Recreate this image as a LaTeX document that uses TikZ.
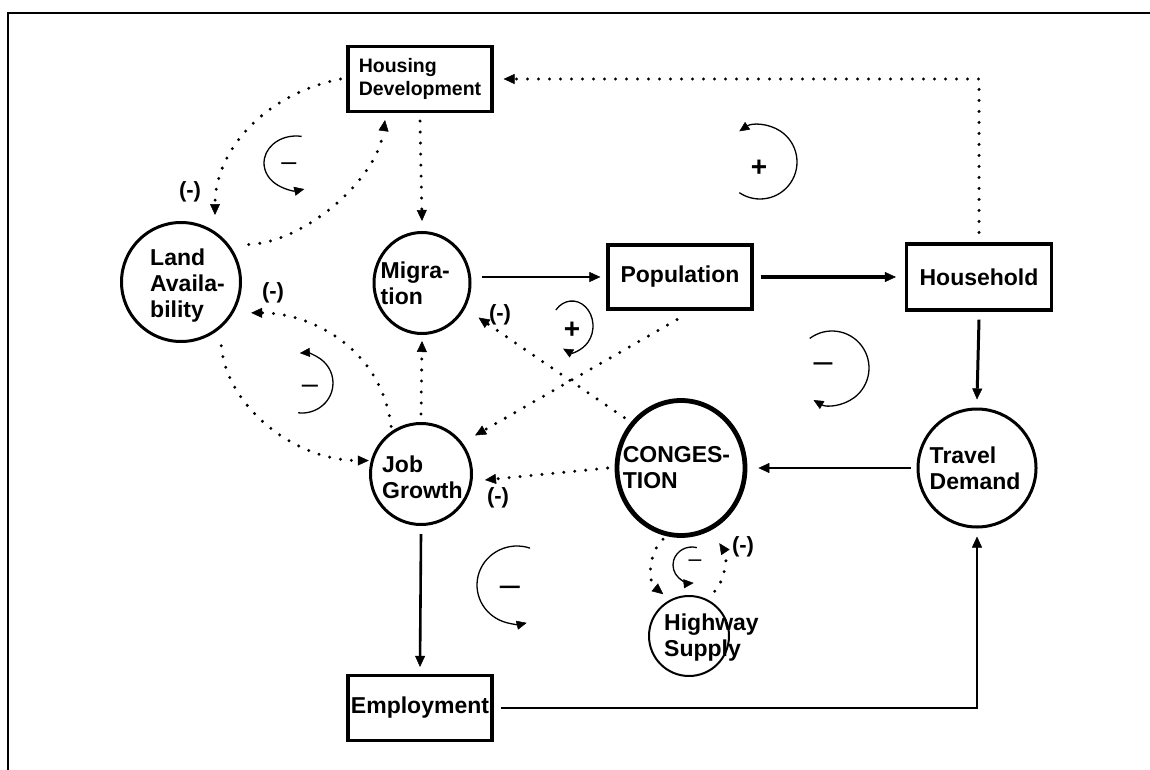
\documentclass[tikz,border=0pt]{standalone}
\usepackage{fontspec}
\setmainfont{Liberation Sans}
\usetikzlibrary{arrows.meta, positioning, shapes.geometric}
\tikzstyle{var} = [ellipse,draw,line width=3pt,inner sep=0pt]
\tikzstyle{box} = [rectangle,draw,line width=3.2pt,inner sep=1pt,align=center,font=\bfseries\fontsize{23}{26}\selectfont]
\tikzstyle{txt} = [inner sep=0pt,align=left,font=\bfseries\fontsize{23}{26}\selectfont]
\tikzstyle{sign} = [inner sep=0pt,font=\bfseries\fontsize{22}{26}\selectfont]
\tikzstyle{flow} = [->]
\tikzstyle{dots} = [->,line width=3.3pt,line cap=round,dash pattern=on 0pt off 11pt]
\tikzstyle{turn} = [-{Triangle[length=10pt,width=9pt,line width=.5pt]},line width=1.3pt]

\begin{document}
\begin{tikzpicture}[x=1pt,y=1pt,node distance=100pt,>={Triangle[length=11pt,width=10pt,line width=.5pt]}]
		\useasboundingbox (0,0) rectangle (1150,-770);
		\draw[line width=2.8pt] (8,-770) -- (8,-13) -- (1150,-13);

		\node [box,minimum width=144pt,minimum height=65pt,align=left,font=\bfseries\fontsize{19.5}{23}\selectfont](hd) at (420,-79){Housing\\Development};
		\node [var,below of=hd,xshift=-239pt,yshift=-103pt,minimum width=119pt,minimum height=119pt](land){};
		\node [var,below of=hd,xshift=2pt,yshift=-104pt,minimum width=96pt,minimum height=101pt](mig){};
		\node [box,right of=mig,xshift=158pt,yshift=6pt,minimum width=144pt,minimum height=64pt](pop){Population};
		\node [box,right of=pop,xshift=199pt,minimum width=145pt,minimum height=66pt](hh){Household};
		\node [var,below of=mig,xshift=-1pt,yshift=-91pt,minimum width=101pt,minimum height=101pt](job){};
		\node [var,right of=job,xshift=160pt,yshift=6pt,line width=4.8pt,minimum width=128pt,minimum height=135pt](cong){};
		\node [var,below of=hh,xshift=-2pt,yshift=-91pt,minimum width=118pt,minimum height=118pt](trav){};
		\node [var,below of=cong,xshift=8pt,yshift=-68pt,line width=2pt,minimum width=80pt,minimum height=80pt](hwy){};
		\node [box,below of=job,xshift=-1pt,yshift=-134pt,minimum width=144pt,minimum height=65pt](emp){Employment};

		\node [txt,right=30pt of land.west,yshift=-4pt](landtxt){Land\\Availa-\\bility};
		\node [txt,right=8pt of mig.west](migtxt){Migra-\\tion};
		\node [txt,right=13pt of job.west,yshift=-3pt](jobtxt){Job\\Growth};
		\node [txt,right=8pt of cong.west](congtxt){CONGES-\\TION};
		\node [txt,right=13pt of trav.west](travtxt){Travel\\Demand};
		\node [txt,right=16pt of hwy.west,yshift=-2pt](hwytxt){Highway\\Supply};

		\draw[flow,line width=1.7pt]([xshift=10pt,yshift=6pt]mig.east)--([xshift=-6pt]pop.west);
		\draw[flow,line width=3.2pt]([xshift=7pt]pop.east)--([xshift=-9pt]hh.west);
		\draw[flow,line width=3pt]([yshift=-8pt]hh.south)--([yshift=8pt]trav.north);
		\draw[flow,line width=1.9pt]([xshift=-6pt]trav.west)--([xshift=11pt]cong.east);
		\draw[flow,line width=2.6pt]([yshift=-8pt]job.south)--([yshift=7pt]emp.north);
		\draw[flow,line width=1.9pt]([xshift=7pt]emp.east)-|([yshift=-8pt]trav.south);

		\draw[dots]([yshift=10pt]hh.north)|-([xshift=10pt]hd.east);
		\draw[dots]([yshift=-8pt]hd.south)--([yshift=10pt]mig.north);
		\draw[dots]([xshift=-6pt]hd.west) .. controls +(-75pt,-15pt) and +(0pt,65pt) .. ([shift={(34pt,6pt)}]land.north);
		\draw[dots]([shift={(15pt,7pt)}]land.30) .. controls +(55pt,2pt) and +(-8pt,-60pt) .. ([shift={(-35pt,-7pt)}]hd.south);
		\draw[dots]([yshift=5pt]job.125) .. controls +(-10pt,78pt) and +(60pt,0pt) .. ([shift={(14pt,-7pt)}]land.-23);
		\draw[dots]([shift={(8pt,-12pt)}]land.-58) .. controls +(5pt,-60pt) and +(-75pt,0pt) .. ([xshift=-2pt]job.165);
		\draw[dots]([yshift=8pt]job.north)--([yshift=-6pt]mig.south);
		\draw[dots]([shift={(-3pt,-9pt)}]pop.south)--([shift={(12pt,8pt)}]job.36);
		\draw[dots]([shift={(-7pt,4pt)}]cong.137)--([shift={(14pt,-8pt)}]mig.-32);
		\draw[dots]([xshift=-7pt]cong.west)--([xshift=12pt,yshift=-6pt]job.east);
		\draw[dots]([yshift=-4pt]cong.-105) .. controls +(-14pt,-12pt) and +(-16pt,13pt) .. ([shift={(-4pt,7pt)}]hwy.122);
		\draw[dots]([shift={(4pt,10pt)}]hwy.58) .. controls +(11pt,12pt) and +(8pt,-12pt) .. ([shift={(8pt,-13pt)}]cong.-64);

		\node [sign](n1) at (190,-192){(-)};
		\node [sign](n2) at (273,-293){(-)};
		\node [sign](n3) at (500,-315){(-)};
		\node [sign](n4) at (498,-498){(-)};
		\node [sign](n5) at (743,-547){(-)};

		% feedback loops
		\draw[turn](296,-163) ++(80:32pt and 27pt) arc[start angle=80,end angle=285,x radius=32pt,y radius=27pt];
		\draw[turn](760,-162) ++(-124:37pt) arc[start angle=-124,end angle=124,radius=37pt];
		\draw[turn](572,-326) ++(140:21pt and 25pt) arc[start angle=140,end angle=-115,x radius=21pt,y radius=25pt];
		\draw[turn](302,-383) ++(-97:31pt and 30pt) arc[start angle=-97,end angle=94,x radius=31pt,y radius=30pt];
		\draw[turn](832,-368) ++(127:37pt) arc[start angle=127,end angle=-120,radius=37pt];
		\draw[turn](517,-585) ++(71:40pt and 39pt) arc[start angle=71,end angle=284,x radius=40pt,y radius=39pt];
		\draw[turn](692,-565) ++(75:19pt and 18pt) arc[start angle=75,end angle=275,x radius=19pt,y radius=18pt];

		\node [inner sep=0pt,font=\fontsize{27}{27}\selectfont](s1) at (289,-167){\textendash};
		\node [inner sep=0pt,font=\bfseries\fontsize{28}{28}\selectfont](s2) at (759,-168){+};
		\node [inner sep=0pt,font=\bfseries\fontsize{28}{28}\selectfont](s3) at (572,-330){+};
		\node [inner sep=0pt,font=\fontsize{29}{29}\selectfont](s4) at (310,-389){\textendash};
		\node [inner sep=0pt,font=\fontsize{34}{34}\selectfont](s5) at (823,-368){\textendash};
		\node [inner sep=0pt,font=\fontsize{36}{36}\selectfont](s6) at (510,-591){\textendash};
		\node [inner sep=0pt,font=\fontsize{23}{23}\selectfont](s7) at (695,-563){\textendash};
		\end{tikzpicture}
\end{document}
